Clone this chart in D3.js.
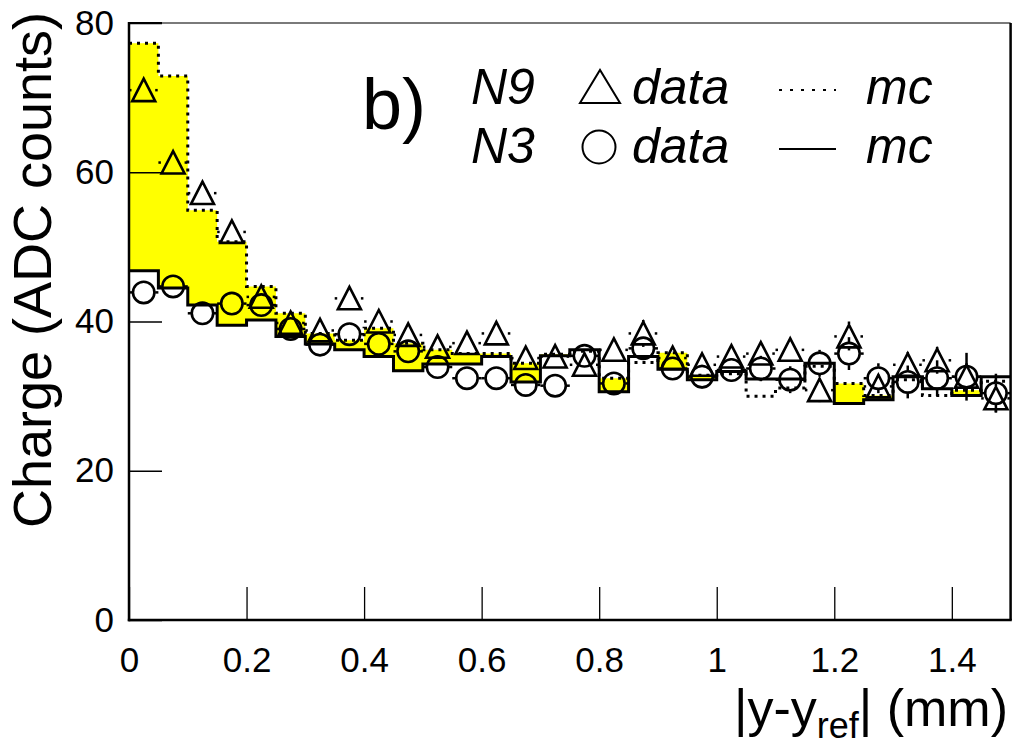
<!DOCTYPE html>
<html>
<head>
<meta charset="utf-8">
<script src="https://cdn.jsdelivr.net/npm/d3@7"></script>
<style>
  body { margin: 0; background: #fff; }
  svg { font-family: "Liberation Sans", Arial, sans-serif; }
</style>
</head>
<body>
<div id="chart"></div>
<script>
const W = 1014, H = 747;
const margin = { top: 23, right: 3, bottom: 127, left: 129 };

// bins of width 0.05 mm
const binWidth = 0.05;
const binLow = [0, 0.05, 0.1, 0.15, 0.2, 0.25, 0.3, 0.35, 0.4, 0.45,
  0.5, 0.55, 0.6, 0.65, 0.7, 0.75, 0.8, 0.85, 0.9, 0.95,
  1.0, 1.05, 1.1, 1.15, 1.2, 1.25, 1.3, 1.35, 1.4, 1.45];

// N9 data (triangles) and N3 data (circles)
const n9Data = [71.0, 61.3, 57.2, 52.0, 43.3, 39.8, 38.8, 43.1, 40.0, 38.2,
  36.6, 37.1, 38.4, 35.1, 35.3, 34.2, 36.2, 38.4, 35.1, 34.2,
  35.3, 35.7, 36.2, 30.8, 38.0, 31.3, 34.2, 34.8, 32.6, 29.7];
const n9Err = [1.0, 1.0, 1.0, 1.0, 1.0, 1.0, 1.0, 1.0, 1.1, 1.1,
  1.1, 1.1, 1.2, 1.2, 1.2, 1.3, 1.3, 1.8, 1.4, 1.4,
  1.5, 1.5, 1.6, 1.6, 2.0, 1.6, 1.7, 1.8, 1.8, 2.0];
const n3Data = [43.9, 44.7, 41.1, 42.4, 42.2, 39.0, 36.9, 38.3, 37.0, 36.0,
  33.9, 32.4, 32.4, 31.5, 31.4, 35.4, 31.7, 36.4, 33.7, 32.6,
  33.5, 33.7, 32.2, 34.4, 35.7, 32.4, 31.9, 32.4, 32.6, 30.4];
const n3Err = [0.8, 0.8, 0.8, 0.9, 0.9, 0.9, 1.0, 1.0, 1.0, 1.1,
  1.1, 1.2, 1.2, 1.3, 1.3, 1.4, 1.4, 1.5, 1.5, 1.6,
  1.6, 1.7, 1.8, 1.8, 2.2, 2.0, 2.2, 2.4, 3.2, 2.6];

// MC histograms
const n9Mc = [77.3, 72.9, 54.9, 50.7, 44.7, 41.1, 38.4, 37.5, 39.1, 37.1,
  36.2, 35.7, 35.7, 34.4, 35.6, 36.0, 32.4, 34.5, 35.8, 32.8,
  33.0, 30.0, 31.1, 34.0, 31.7, 30.1, 32.2, 30.1, 30.8, 32.0];
const n3Mc = [46.8, 44.5, 42.2, 39.5, 40.2, 38.0, 37.0, 36.2, 35.3, 33.4,
  34.3, 34.3, 35.3, 31.9, 35.4, 36.2, 30.6, 35.3, 33.6, 32.2,
  33.3, 32.3, 32.3, 34.4, 29.0, 29.5, 32.6, 31.0, 30.1, 32.6];

const xMajor = [0, 0.2, 0.4, 0.6, 0.8, 1, 1.2, 1.4];
const yMajor = [0, 20, 40, 60, 80];

const svg = d3.select("#chart").append("svg")
  .attr("width", W).attr("height", H);

const x = d3.scaleLinear().domain([0, 1.5]).range([margin.left, W - margin.right - 0.4]);
const y = d3.scaleLinear().domain([0, 80]).range([H - margin.bottom, margin.top]);

// step outlines
const stepPts = (vals) => {
  const pts = binLow.map((b, i) => [b, vals[i]]);
  pts.push([binLow[binLow.length - 1] + binWidth, vals[vals.length - 1]]);
  return pts;
};
const area = d3.area().curve(d3.curveStepAfter)
  .x(d => x(d[0])).y0(y(0)).y1(d => y(d[1]));
const line = d3.line().curve(d3.curveStepAfter)
  .x(d => x(d[0])).y(d => y(d[1]));

svg.append("path").attr("d", area(stepPts(n9Mc))).attr("fill", "#ffff00");
svg.append("path").attr("d", area(stepPts(n3Mc))).attr("fill", "#fff");
svg.append("path").attr("d", line(stepPts(n9Mc)))
  .attr("fill", "none").attr("stroke", "#000").attr("stroke-width", 3)
  .attr("stroke-dasharray", "3,5");
svg.append("path").attr("d", line(stepPts(n3Mc)))
  .attr("fill", "none").attr("stroke", "#000").attr("stroke-width", 3);

// axes (ticks inside)
const gx = svg.append("g").attr("transform", `translate(0,${y(0)})`);
gx.call(d3.axisBottom(x).tickValues(d3.range(0, 1.5001, 0.05)).tickSize(-16.5).tickFormat(""));
gx.call(d3.axisBottom(x).tickValues(xMajor).tickSize(-33).tickPadding(27)
  .tickFormat(d => d3.format("~g")(d)));
const gy = svg.append("g").attr("transform", `translate(${x(0)},0)`);
gy.call(d3.axisLeft(y).tickValues(d3.range(0, 80.001, 5)).tickSize(-16.5).tickFormat(""));
gy.call(d3.axisLeft(y).tickValues(yMajor).tickSize(-33).tickPadding(15));
svg.selectAll(".domain").remove();
svg.selectAll(".tick line").attr("stroke", "#000").attr("stroke-width", 1.3);
svg.selectAll(".tick text").attr("font-size", 35).attr("fill", "#000")
  .attr("font-family", "Liberation Sans, Arial, sans-serif");

// frame
svg.append("line").attr("x1", x(0)).attr("x2", x(1.5)).attr("y1", y(80)).attr("y2", y(80))
  .attr("stroke", "#7a7a7a").attr("stroke-width", 2);
svg.append("line").attr("x1", x(0)).attr("x2", x(0) + 33).attr("y1", y(80)).attr("y2", y(80))
  .attr("stroke", "#000").attr("stroke-width", 2);
svg.append("line").attr("x1", x(1.5)).attr("x2", x(1.5)).attr("y1", y(80)).attr("y2", y(0))
  .attr("stroke", "#000").attr("stroke-width", 2.5);
svg.append("line").attr("x1", x(0)).attr("x2", x(0)).attr("y1", y(80) - 1).attr("y2", y(0) + 1.2)
  .attr("stroke", "#000").attr("stroke-width", 2.5);
svg.append("line").attr("x1", x(0) - 1.2).attr("x2", x(1.5) + 1.2).attr("y1", y(0)).attr("y2", y(0))
  .attr("stroke", "#000").attr("stroke-width", 2.5);

// data points with error bars
const R = 11.5;
const drawSeries = (vals, errs, dash, shape) => {
  const g = svg.append("g");
  vals.forEach((v, i) => {
    const cx = x(binLow[i] + binWidth / 2), cy = y(v);
    const eb = g.append("g").attr("stroke", "#000").attr("stroke-width", 2.5)
      .attr("stroke-dasharray", dash);
    const xl = x(binLow[i]), xr = x(binLow[i] + binWidth);
    if (cx - R > xl) eb.append("line").attr("x1", xl).attr("x2", cx - R).attr("y1", cy).attr("y2", cy);
    if (xr > cx + R) eb.append("line").attr("x1", cx + R).attr("x2", xr).attr("y1", cy).attr("y2", cy);
    const yt = y(v + errs[i]), yb = y(v - errs[i]);
    if (yt < cy - R) eb.append("line").attr("x1", cx).attr("x2", cx).attr("y1", yt).attr("y2", cy - R);
    if (yb > cy + R) eb.append("line").attr("x1", cx).attr("x2", cx).attr("y1", cy + R).attr("y2", yb);
    if (shape === "tri") {
      g.append("path")
        .attr("d", `M${cx - R},${cy + R * 0.95}L${cx + R},${cy + R * 0.95}L${cx},${cy - R}Z`)
        .attr("fill", "none").attr("stroke", "#000").attr("stroke-width", 2.6);
    } else {
      g.append("circle").attr("cx", cx).attr("cy", cy).attr("r", R - 0.8)
        .attr("fill", "none").attr("stroke", "#000").attr("stroke-width", 2.6);
    }
  });
};
drawSeries(n9Data, n9Err, "2.5,4", "tri");
drawSeries(n3Data, n3Err, null, "circ");

// axis titles
svg.append("text")
  .attr("transform", `translate(51,270) rotate(-90)`)
  .attr("text-anchor", "middle").attr("font-size", 54)
  .text("Charge (ADC counts)");
const xt = svg.append("text").attr("x", W - 6).attr("y", 726)
  .attr("text-anchor", "end").attr("font-size", 52);
xt.append("tspan").text("|y-y");
xt.append("tspan").attr("font-size", 36).attr("dy", 12).text("ref");
xt.append("tspan").attr("dy", -12).text("| (mm)");

// panel label
svg.append("text").attr("x", 362).attr("y", 129).attr("font-size", 72).text("b)");

// legend
const leg = svg.append("g").attr("font-size", 50).attr("font-style", "italic");
const rows = [
  { lab: "N9", cy: 88, base: 104, dash: "3,8", shape: "tri" },
  { lab: "N3", cy: 147, base: 163, dash: null, shape: "circ" }
];
rows.forEach(r => {
  leg.append("text").attr("x", 471).attr("y", r.base).text(r.lab);
  leg.append("text").attr("x", 632).attr("y", r.base).text("data");
  leg.append("text").attr("x", 866).attr("y", r.base).text("mc");
  leg.append("line").attr("x1", 779).attr("x2", 836).attr("y1", r.cy + 2).attr("y2", r.cy + 2)
    .attr("stroke", "#000").attr("stroke-width", 2).attr("stroke-dasharray", r.dash);
  if (r.shape === "tri") {
    leg.append("path").attr("d", `M580,${r.cy + 15}L620,${r.cy + 15}L600,${r.cy - 18}Z`)
      .attr("fill", "none").attr("stroke", "#000").attr("stroke-width", 2);
  } else {
    leg.append("circle").attr("cx", 599).attr("cy", r.cy).attr("r", 16.5)
      .attr("fill", "none").attr("stroke", "#000").attr("stroke-width", 2);
  }
});
</script>
</body>
</html>
